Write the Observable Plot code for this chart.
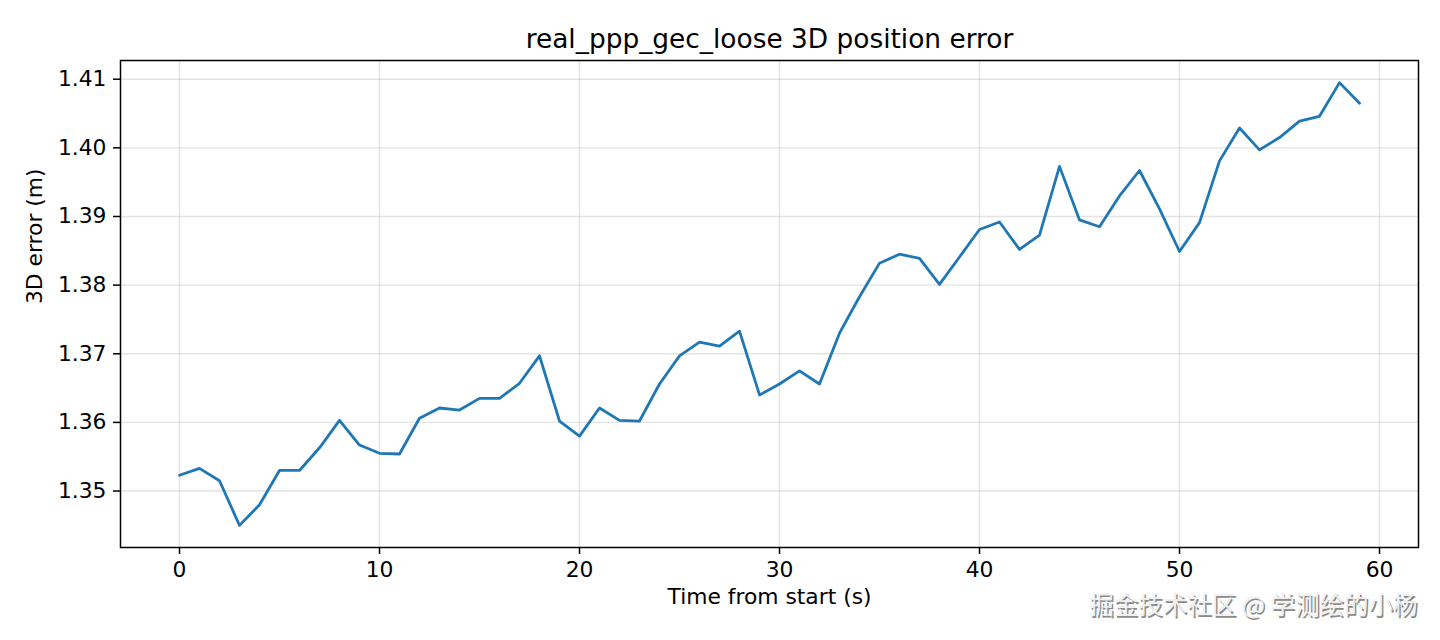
<!DOCTYPE html>
<html>
<head>
<meta charset="utf-8">
<script src="https://cdn.jsdelivr.net/npm/d3@7"></script>
<script src="https://cdn.jsdelivr.net/npm/@observablehq/plot@0.6"></script>
<style>
  html, body { margin: 0; padding: 0; background: #fff; }
</style>
</head>
<body>
<div id="chart"></div>
<script>
const titleText = "real_ppp_gec_loose 3D position error";
const xLabel = "Time from start (s)";
const yLabel = "3D error (m)";
const watermark = "掘金技术社区 @ 学测绘的小杨";

const timeSec = [0,1,2,3,4,5,6,7,8,9,10,11,12,13,14,15,16,17,18,19,
  20,21,22,23,24,25,26,27,28,29,30,31,32,33,34,35,36,37,38,39,
  40,41,42,43,44,45,46,47,48,49,50,51,52,53,54,55,56,57,58,59];

const error3d = [
  1.3523, 1.3533, 1.3515, 1.3450, 1.3480, 1.3530, 1.3530, 1.3563, 1.3603, 1.3567,
  1.3555, 1.3554, 1.3606, 1.3621, 1.3618, 1.3635, 1.3635, 1.3657, 1.3697, 1.3602,
  1.3580, 1.3621, 1.3603, 1.3602, 1.3656, 1.3697, 1.3717, 1.3711, 1.3733, 1.3640,
  1.3656, 1.3675, 1.3656, 1.3730, 1.3783, 1.3832, 1.3845, 1.3839, 1.3801, 1.3841,
  1.3881, 1.3892, 1.3852, 1.3873, 1.3973, 1.3895, 1.3885, 1.3930, 1.3967, 1.3911,
  1.3849, 1.3891, 1.3981, 1.4029, 1.3997, 1.4015, 1.4039, 1.4046, 1.4095, 1.4065
];

const xTicks = [0, 10, 20, 30, 40, 50, 60];
const yTicks = [1.35, 1.36, 1.37, 1.38, 1.39, 1.40, 1.41];

const data = timeSec.map((t, i) => ({t, v: error3d[i]}));

const FS = 21.8;

const chart = Plot.plot({
  width: 1440,
  height: 640,
  marginLeft: 120,
  marginRight: 22,
  marginTop: 60,
  marginBottom: 93,
  style: {fontFamily: "'DejaVu Sans', sans-serif", fontSize: FS + "px", background: "#fff", color: "#000"},
  x: {domain: [-2.95, 61.95]},
  y: {domain: [1.341775, 1.412725]},
  marks: [
    Plot.gridX(xTicks, {stroke: "#b0b0b0", strokeOpacity: 0.35, strokeWidth: 1.4}),
    Plot.gridY(yTicks, {stroke: "#b0b0b0", strokeOpacity: 0.35, strokeWidth: 1.4}),
    Plot.line(data, {x: "t", y: "v", stroke: "#1f77b4", strokeWidth: 2.8, strokeLinejoin: "round"}),
    Plot.frame({stroke: "#000", strokeWidth: 1.5}),
    Plot.axisX({ticks: xTicks, tickSize: 7, tickPadding: 7, label: null, strokeWidth: 1.5, fontSize: FS}),
    Plot.axisY({ticks: yTicks, tickSize: 7, tickPadding: 7, label: null, tickFormat: d3.format(".2f"), strokeWidth: 1.5, fontSize: FS}),
    Plot.text([titleText], {frameAnchor: "top", dy: -31, fontSize: 26.4, fill: "#000"}),
    Plot.text([xLabel], {frameAnchor: "bottom", lineAnchor: "top", dy: 41, fontSize: FS, fill: "#000"}),
    Plot.text([yLabel], {frameAnchor: "left", rotate: -90, dx: -85, fontSize: FS, fill: "#000"}),
    Plot.text([watermark], {frameAnchor: "bottom-right", textAnchor: "end", dx: 0.5, dy: 68, fontSize: 24.5, fontFamily: "'Noto Sans CJK SC', sans-serif", fill: "#8a8a8a"}),
    Plot.text([watermark], {frameAnchor: "bottom-right", textAnchor: "end", dx: -1, dy: 66.5, fontSize: 24.5, fontFamily: "'Noto Sans CJK SC', sans-serif", fill: "#f0f0f0"})
  ]
});

document.getElementById("chart").appendChild(chart);
</script>
</body>
</html>
